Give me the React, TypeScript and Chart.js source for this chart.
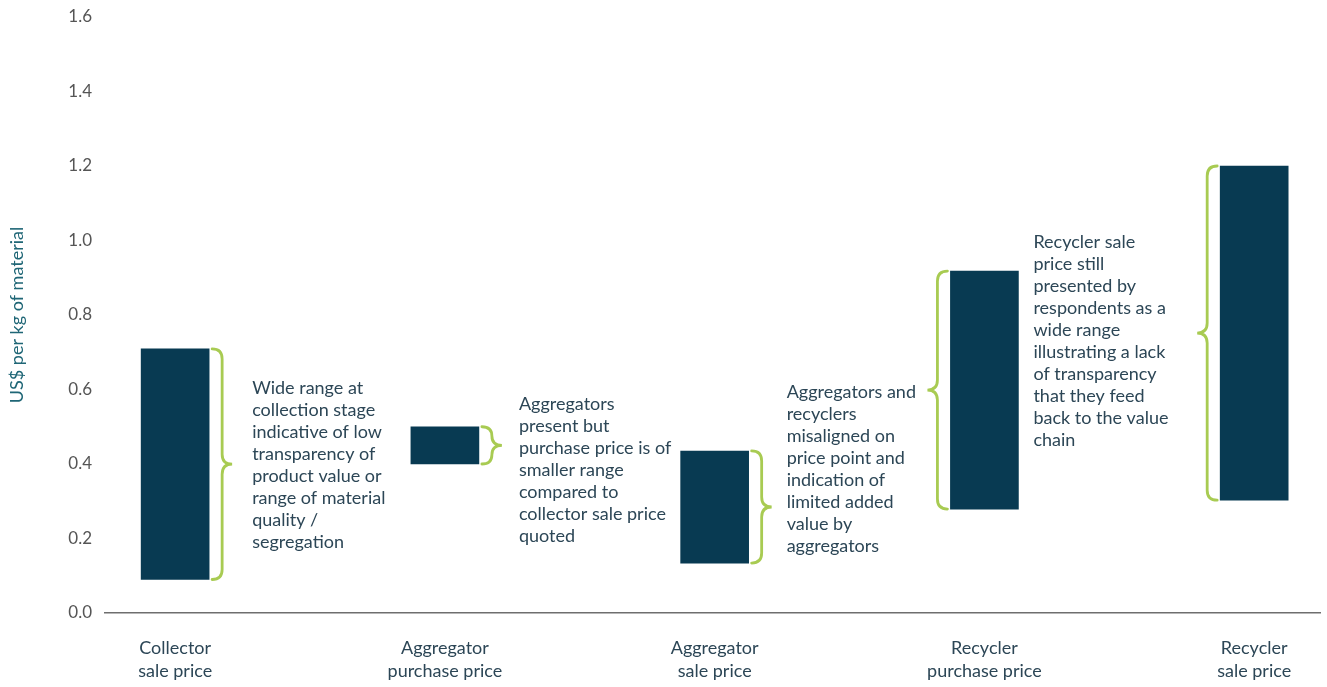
import React, { useEffect, useRef } from "react";
import { Chart, registerables } from "chart.js";

Chart.register(...registerables);

const categories: string[][] = [
  ["Collector", "sale price"],
  ["Aggregator", "purchase price"],
  ["Aggregator", "sale price"],
  ["Recycler", "purchase price"],
  ["Recycler", "sale price"],
];
const lowValues = [0.09, 0.4, 0.134, 0.279, 0.303];
const highValues = [0.709, 0.5, 0.435, 0.918, 1.2];
const yTickValues = [0, 0.2, 0.4, 0.6, 0.8, 1.0, 1.2, 1.4, 1.6];

const note1 = ["Wide range at", "collection stage", "indicative of low", "transparency of", "product value or", "range of material", "quality /", "segregation"];
const note2 = ["Aggregators", "present but", "purchase price is of", "smaller range", "compared to", "collector sale price", "quoted"];
const note3 = ["Aggregators and", "recyclers", "misaligned on", "price point and", "indication of", "limited added", "value by", "aggregators"];
const note4 = ["Recycler sale", "price still", "presented by", "respondents as a", "wide range", "illustrating a lack", "of transparency", "that they feed", "back to the value", "chain"];

// notes: anchored to a bar's right edge (pixel offset) and first-line value
const notes = [
  { bar: 0, dx: 43, yFirst: 0.604, lines: note1 },
  { bar: 1, dx: 40, yFirst: 0.561, lines: note2 },
  { bar: 2, dx: 38, yFirst: 0.593, lines: note3 },
  { bar: 3, dx: 15, yFirst: 0.996, lines: note4 },
];
// braces: bar index and which side
const braces = [
  { bar: 0, side: "right" },
  { bar: 1, side: "right" },
  { bar: 2, side: "right" },
  { bar: 3, side: "left" },
  { bar: 4, side: "left" },
];

const BAR_COLOR = "#083a52";
const BRACE_COLOR = "#a8cb52";
const TEXT_COLOR = "#2c4656";
const FONT = "Lato, 'Open Sans', sans-serif";

const annotationPlugin = {
  id: "annotations",
  afterDatasetsDraw(chart: any) {
    const ctx = chart.ctx;
    const meta = chart.getDatasetMeta(0);
    const yScale = chart.scales.y;
    const geom = (i: number) => {
      const p = meta.data[i].getProps(["x", "y", "base", "width"], true);
      return {
        left: p.x - p.width / 2,
        right: p.x + p.width / 2,
        top: Math.min(p.y, p.base),
        bottom: Math.max(p.y, p.base),
      };
    };
    ctx.save();
    ctx.strokeStyle = BRACE_COLOR;
    ctx.lineWidth = 2.8;
    ctx.lineCap = "round";
    braces.forEach((b) => {
      const g = geom(b.bar);
      const d = b.side === "right" ? 1 : -1;
      const gap = 3;
      const w = 20;
      const x0 = b.side === "right" ? g.right + gap : g.left - gap;
      const xm = x0 + (d * w) / 2;
      const xp = x0 + d * w;
      const top = g.top;
      const bottom = g.bottom;
      const mid = (top + bottom) / 2;
      const r = Math.min(w / 2, (bottom - top) / 4);
      ctx.beginPath();
      ctx.moveTo(x0, top);
      ctx.quadraticCurveTo(xm, top, xm, top + r);
      ctx.lineTo(xm, mid - r);
      ctx.quadraticCurveTo(xm, mid, xp, mid);
      ctx.quadraticCurveTo(xm, mid, xm, mid + r);
      ctx.lineTo(xm, bottom - r);
      ctx.quadraticCurveTo(xm, bottom, x0, bottom);
      ctx.stroke();
    });
    ctx.fillStyle = TEXT_COLOR;
    ctx.font = `18px ${FONT}`;
    ctx.textAlign = "left";
    ctx.textBaseline = "middle";
    notes.forEach((n) => {
      const g = geom(n.bar);
      const x = g.right + n.dx;
      const y0 = yScale.getPixelForValue(n.yFirst);
      n.lines.forEach((line, i) => ctx.fillText(line, x, y0 + i * 22));
    });
    ctx.restore();
  },
};

export default function App() {
  const ref = useRef<HTMLCanvasElement | null>(null);
  useEffect(() => {
    if (!ref.current) return;
    const chart = new Chart(ref.current, {
      type: "bar",
      data: {
        datasets: [
          {
            data: categories.map((_, i) => ({ x: i, y: [lowValues[i], highValues[i]] })) as any,
            backgroundColor: BAR_COLOR,
            borderWidth: 0,
            barThickness: 68,
          },
        ],
      },
      options: {
        animation: false,
        responsive: false,
        layout: { padding: { left: 0, right: 7, top: 17, bottom: 0 } },
        plugins: { legend: { display: false }, tooltip: { enabled: false } },
        scales: {
          x: {
            type: "linear",
            offset: false,
            min: -0.26,
            max: 4.244,
            grid: { display: false, drawTicks: false, offset: false },
            border: { display: true, color: "#6e6e6e", width: 1.5 },
            afterBuildTicks: (scale: any) => {
              scale.ticks = categories.map((_, i) => ({ value: i }));
            },
            afterFit: (scale: any) => {
              scale.height = 74;
              scale.paddingLeft = 0;
              scale.paddingRight = 0;
            },
            ticks: {
              autoSkip: false,
              maxRotation: 0,
              padding: 24,
              color: TEXT_COLOR,
              font: { family: FONT, size: 18, lineHeight: 1.28 },
              callback: (v: any) => categories[Math.round(Number(v))] ?? "",
            },
          },
          y: {
            min: 0,
            max: 1.6,
            grid: { display: false, drawTicks: false },
            border: { display: false },
            afterBuildTicks: (scale: any) => {
              scale.ticks = yTickValues.map((v) => ({ value: v }));
            },
            afterFit: (scale: any) => {
              scale.width = 105;
              scale.paddingTop = 0;
              scale.paddingBottom = 0;
            },
            ticks: {
              padding: 13,
              color: "#555555",
              font: { family: FONT, size: 17 },
              callback: (v: any) => Number(v).toFixed(1),
            },
            title: {
              display: true,
              text: "US$ per kg of material",
              color: "#1f6676",
              font: { family: FONT, size: 18 },
              padding: { top: 6, bottom: 0 },
            },
          },
        },
      },
      plugins: [annotationPlugin],
    });
    return () => chart.destroy();
  }, []);
  return (
    <div style={{ position: "fixed", left: 0, top: 0, width: 1327, height: 687, background: "#fff" }}>
      <canvas ref={ref} width={1327} height={687} style={{ display: "block" }} />
    </div>
  );
}
